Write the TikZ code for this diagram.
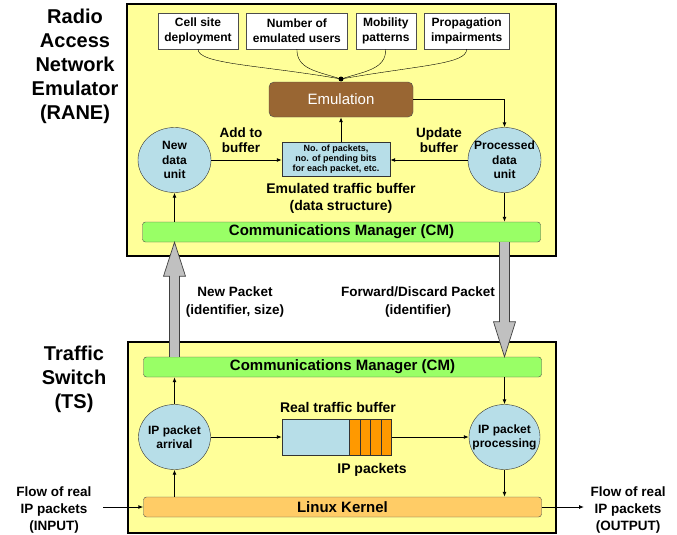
\documentclass[tikz,border=0pt]{standalone}
\usepackage{fontspec}
\setmainfont{Liberation Sans}
\usepackage{tikz}
\usetikzlibrary{positioning}
\usetikzlibrary{calc}
\usetikzlibrary{arrows.meta}
\usetikzlibrary{shapes.geometric}

\definecolor{raneyellow}{HTML}{FFFF99}
\definecolor{unitblue}{HTML}{B7DEE8}
\definecolor{cmgreen}{HTML}{99FF66}
\definecolor{kernelorange}{HTML}{FFCC66}
\definecolor{pktorange}{HTML}{FF9900}
\definecolor{emulbrown}{HTML}{996633}
\definecolor{bigarrgray}{HTML}{C0C0C0}

\begin{document}
\begin{tikzpicture}[x=1pt,y=-1pt,font=\bfseries,
	sysbox/.style={rectangle, draw=black, line width=1.4pt, fill=raneyellow},
	parbox/.style={rectangle, draw=black!70, fill=white, minimum height=36pt, align=center, inner sep=2pt, font=\bfseries\fontsize{12}{15}\selectfont},
	emulbox/.style={rectangle, rounded corners=5pt, draw=black!70, fill=emulbrown, minimum width=144pt, minimum height=35pt, text=white, font=\mdseries\fontsize{15}{18}\selectfont},
	bufbox/.style={rectangle, draw=black!80, fill=unitblue, minimum width=108pt, minimum height=34pt, align=center, inner sep=1pt, font=\bfseries\fontsize{9}{10}\selectfont},
	cmbar/.style={rectangle, rounded corners=3pt, draw=black!70, fill=cmgreen, minimum width=398pt, minimum height=20pt, inner sep=0pt, font=\bfseries\fontsize{15}{18}\selectfont},
	dunode/.style={ellipse, draw=black!80, fill=unitblue, minimum width=73pt, minimum height=65pt},
	dutext/.style={align=center, inner sep=0pt, font=\bfseries\fontsize{12}{14.5}\selectfont},
	cellbox/.style={rectangle, draw=black!80, fill=pktorange, minimum width=10.5pt, minimum height=36pt, anchor=west},
	lbl/.style={align=center, font=\bfseries\fontsize{13.5}{16}\selectfont},
	title/.style={align=center, font=\bfseries\fontsize{20}{24}\selectfont},
	arr/.style={-{Latex[length=5pt,width=4pt]}, line width=0.9pt},
	bigarr/.style={fill=bigarrgray, draw=black!75, line width=0.7pt}]
	\useasboundingbox (0,0) rectangle (677,535);

	\node[sysbox, minimum width=429pt, minimum height=252pt] (rane) at (341.5,130) {};
	\node[sysbox, minimum width=428pt, minimum height=191pt] (ts) at (342,437.5) {};
	\node[title] (ranetitle) at (75,66) {Radio\\Access\\Network\\Emulator\\(RANE)};
	\node[title] (tstitle) at (74,379) {Traffic\\Switch\\(TS)};

	\node[parbox, minimum width=80pt] (cellsite) at (198,31) {Cell site\\deployment};
	\node[parbox, minimum width=101pt] (numusers) [right=8pt of cellsite] {Number of\\emulated users};
	\node[parbox, minimum width=60pt] (mobility) [right=8pt of numusers] {Mobility\\patterns};
	\node[parbox, minimum width=85pt] (propag) [right=8pt of mobility] {Propagation\\impairments};
	\coordinate (merge) at (341,79);
	\draw (cellsite.south) .. controls +(0,15) and +(-80,-14) .. (merge);
	\draw (numusers.south) .. controls +(0,20) and +(-25,-8) .. (merge);
	\draw (mobility.south) .. controls +(0,20) and +(25,-8) .. (merge);
	\draw (propag.south) .. controls +(0,15) and +(80,-14) .. (merge);
	\fill (merge) circle (2.5pt);

	\node[emulbox] (emul) at (341,99.5) {Emulation};
	\node[bufbox] (embuf) at (336,159) {No. of packets,\\no. of pending bits\\for each packet, etc.};
	\node[dunode] (newdu) at (174.5,160) {};
	\node[dutext] at (newdu) {New\\data\\unit};
	\node[dunode] (procdu) at (504.5,160) {};
	\node[dutext] at (procdu) {Processed\\data\\unit};
	\node[lbl, font=\bfseries\fontsize{13.5}{15.5}\selectfont] (addbuf) at (241,140) {Add to\\buffer};
	\node[lbl, font=\bfseries\fontsize{13.5}{15.5}\selectfont] (updbuf) at (439,140) {Update\\buffer};
	\node[lbl, font=\bfseries\fontsize{14}{17}\selectfont] (embuflbl) at (341,198) {Emulated traffic buffer\\(data structure)};
	\node[cmbar] (cmrane) at (341.5,232) {Communications Manager (CM)};

	\draw[arr] (emul.south |- embuf.north) -- (emul.south);
	\draw[arr] (emul.east) -| (procdu.north);
	\draw[arr] (newdu.east) -- (newdu.east -| embuf.west);
	\draw[arr] (procdu.west) -- (procdu.west -| embuf.east);
	\draw[arr] (newdu.south |- cmrane.north) -- (newdu.south);
	\draw[arr] (procdu.south) -- (procdu.south |- cmrane.north);

	\node[cmbar] (cmts) at (342.5,367) {Communications Manager (CM)};
	\node[cmbar, fill=kernelorange] (kernel) at (342.5,507) {Linux Kernel};
	\node[dunode, minimum width=72pt] (arrival) at (174.5,437) {};
	\node[dutext, font=\bfseries\fontsize{12}{14}\selectfont] at (arrival) {IP packet\\arrival};
	\node[dunode, minimum width=71pt] (proc) at (504.5,437) {};
	\node[dutext, font=\bfseries\fontsize{12}{14}\selectfont] at (proc) {IP packet\\processing};
	\node[rectangle, draw=black!80, fill=unitblue, minimum width=67pt, minimum height=36pt] (rbuf) at (315.5,437) {};
	\foreach \i in {1,...,4}
		\node[cellbox] (cell\i) at ($(rbuf.east)+({(\i-1)*10.5},0)$) {};
	\node[lbl, font=\bfseries\fontsize{14}{17}\selectfont] (rbuflbl) at (338,407) {Real traffic buffer};
	\node[lbl, font=\bfseries\fontsize{14}{17}\selectfont] (ippkts) at (372,470) {IP packets};

	\draw[arr] (arrival.north) -- (arrival.north |- cmts.south);
	\draw[arr] (arrival.south |- kernel.north) -- (arrival.south);
	\draw[arr] (arrival.east) -- (arrival.east -| rbuf.west);
	\draw[arr] (cell4.east) -- (cell4.east -| proc.west);
	\draw[arr] (proc.north |- cmts.south) -- (proc.north);
	\draw[arr] (proc.south) -- (proc.south |- kernel.north);

	\node[lbl, font=\bfseries\fontsize{13.5}{17}\selectfont] (inflow) at (54,510) {Flow of real\\IP packets\\(INPUT)};
	\node[lbl, font=\bfseries\fontsize{13.5}{17}\selectfont] (outflow) at (628,510) {Flow of real\\IP packets\\(OUTPUT)};
	\coordinate (inend) at (103,507);
	\coordinate (outend) at (584,507);
	\draw[arr] (inend) -- (kernel.west);
	\draw[arr] (kernel.east) -- (outend);

	\coordinate (uptail) at (arrival.north |- cmts.north);
	\coordinate (uptip) at (arrival.north |- cmrane.south);
	\draw[bigarr] ($(uptail)+(-5,0)$) -- ($(uptip)+(-5,34)$) -- ($(uptip)+(-11,34)$) -- (uptip) -- ($(uptip)+(11,34)$) -- ($(uptip)+(5,34)$) -- ($(uptail)+(5,0)$);
	\coordinate (dntail) at (proc.north |- cmrane.south);
	\coordinate (dntip) at (proc.north |- cmts.north);
	\draw[bigarr] ($(dntail)+(-5,0)$) -- ($(dntip)+(-5,-35)$) -- ($(dntip)+(-11,-35)$) -- (dntip) -- ($(dntip)+(11,-35)$) -- ($(dntip)+(5,-35)$) -- ($(dntail)+(5,0)$);
	\node[lbl, font=\bfseries\fontsize{13.5}{18}\selectfont] (newpkt) at (235,302) {New Packet\\(identifier, size)};
	\node[lbl, font=\bfseries\fontsize{13.5}{18}\selectfont] (fwdpkt) at (418,302) {Forward/Discard Packet\\(identifier)};
\end{tikzpicture}
\end{document}
